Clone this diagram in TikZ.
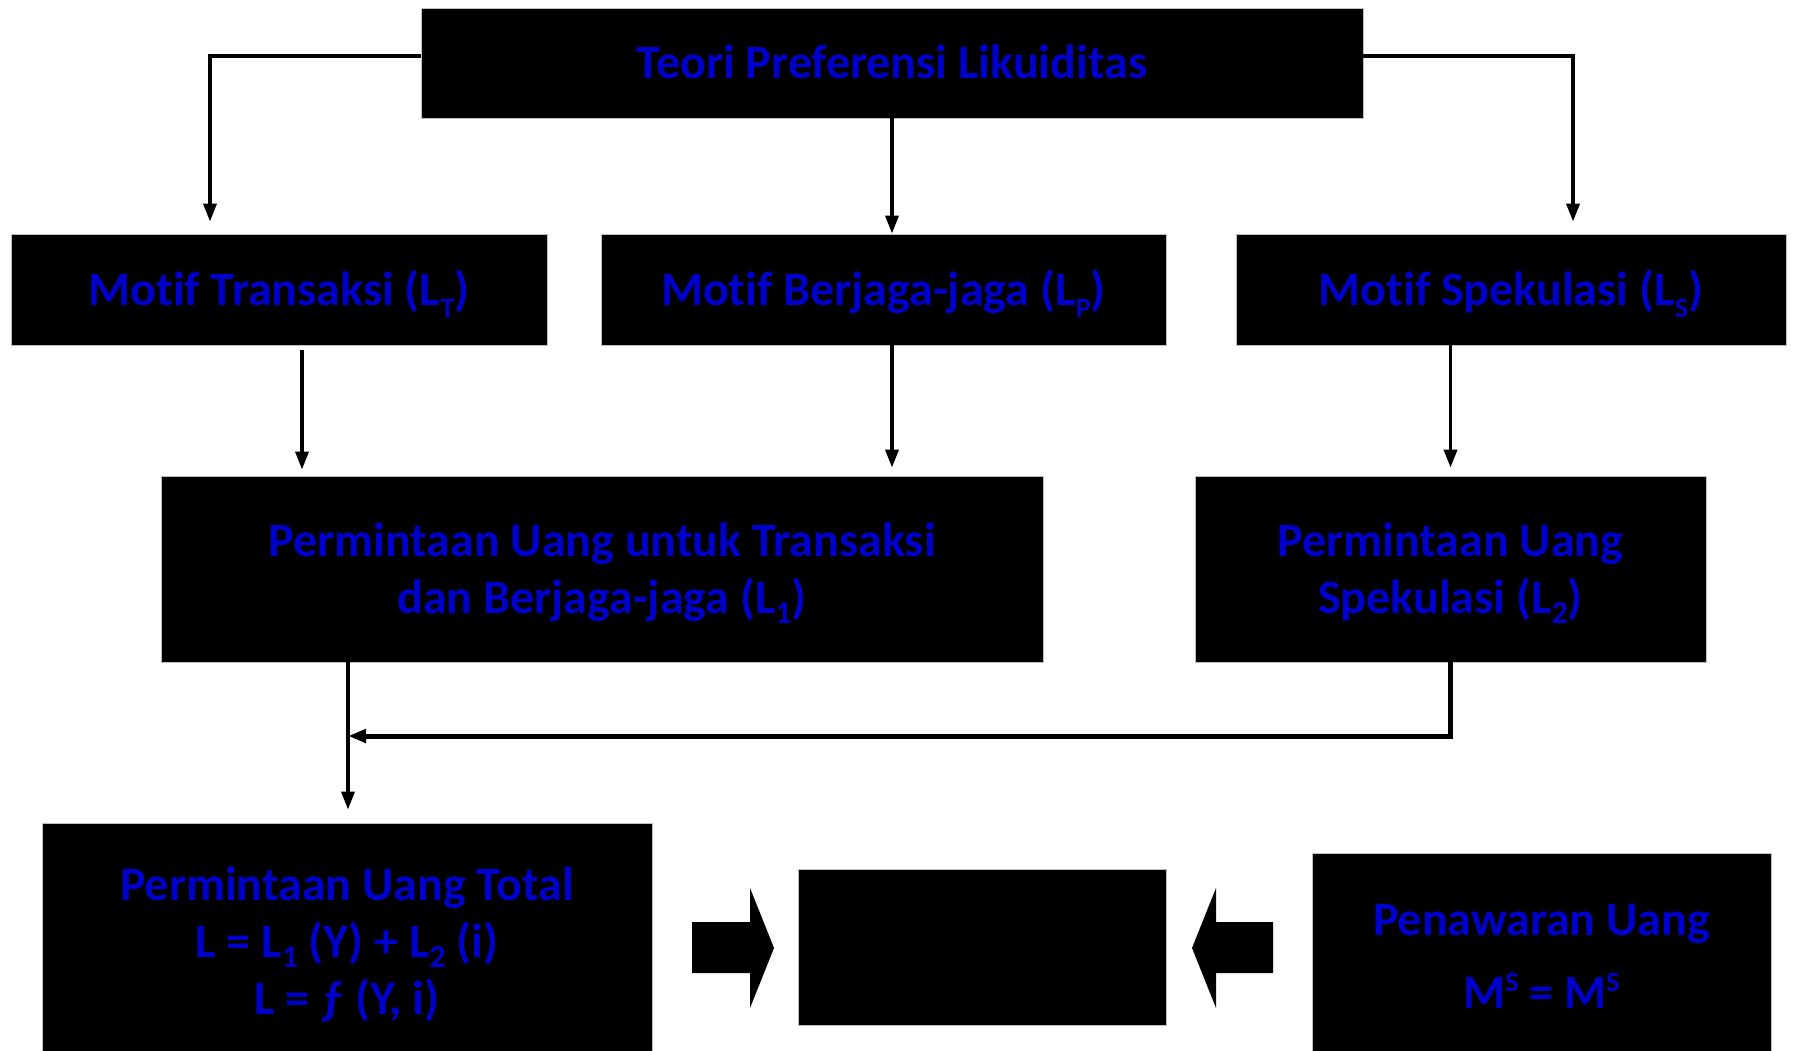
\documentclass[tikz,border=0pt]{standalone}
\usepackage{fontspec}
\setmainfont{Carlito}[Ligatures=NoCommon]
\usetikzlibrary{arrows.meta,calc}
\definecolor{txtblue}{RGB}{0,0,204}
\newcommand\mysubL[1]{\kern0.01em\raisebox{-12pt}{\fontsize{28}{28}\selectfont #1}}
\newcommand\mysubN[1]{\raisebox{-10pt}{\fontsize{32}{32}\selectfont #1}}
\newcommand\mysupL[1]{\raisebox{17pt}{\fontsize{28}{28}\selectfont #1}}
\begin{document}
\begin{tikzpicture}[x=1pt,y=-1pt,
  box/.style={fill=black,draw=gray!50,line width=0.8pt,text=txtblue,
    font=\fontsize{48}{57}\selectfont\bfseries,align=center,inner sep=0pt,
    text depth=0pt,text height=31pt},
  two/.style={text height=88pt},
  three/.style={text height=145pt},
  conn/.style={line width=3.5pt,-{Triangle[length=18pt,width=13pt]}},
  blockarrow/.style={fill=black}]
\path[use as bounding box] (0,0) rectangle (1793,1051);

\node[box,minimum width=942pt,minimum height=110pt] (top) at (892,63) {Teori Preferensi Likuiditas};
\node[box,minimum width=536pt,minimum height=111pt] (mt) at (279,289.5) {Motif Transaksi (L\mysubL{T})};
\node[box,minimum width=565pt,minimum height=111pt] (mb) at (883.5,289.5) {Motif Berjaga-jaga (L\mysubL{P})};
\node[box,minimum width=550pt,minimum height=111pt] (ms) at (1511,289.5) {Motif Spekulasi (L\mysubL{S})};
\node[box,two,minimum width=882pt,minimum height=186pt] (l1) at (602,569) {Permintaan Uang untuk Transaksi\\dan Berjaga-jaga (L\mysubN{1})};
\node[box,two,minimum width=511pt,minimum height=186pt] (l2) at (1450.5,569) {Permintaan Uang\\Spekulasi (L\mysubN{2})};
\node[box,three,minimum width=610pt,minimum height=237pt] (tot) at (347,941.5) {Permintaan Uang Total\\L = L\mysubN{1} (Y) + L\mysubN{2} (i)\\L = ƒ (Y, i)};
\node[box,minimum width=368pt,minimum height=156pt] (mid) at (982,947) {};
\node[box,text height=104pt,minimum width=459pt,minimum height=207pt] (pen) at (1541.5,956.5) {Penawaran Uang\\[16pt]M\mysupL{S} = M\mysupL{S}};

\coordinate (xl) at (210,0);
\coordinate (xr) at (1573,0);
\coordinate (x302) at (302,0);
\coordinate (x348) at (348,0);
\coordinate (j) at (348,736);

\draw[conn,shorten >=12pt] ([yshift=7pt]top.west) -| (mt.north -| xl);
\draw[conn] (top.south) -- (top.south |- mb.north);
\draw[conn,shorten >=12pt] ([yshift=7pt]top.east) -| (ms.north -| xr);

\draw[conn,shorten <=5pt,shorten >=6pt] (mt.south -| x302) -- (l1.north -| x302);
\draw[conn,shorten >=8pt] (top.south |- mb.south) -- (top.south |- l1.north);
\draw[conn,shorten >=8pt] (ms.south -| l2.north) -- (l2.north);
\draw[conn,shorten >=13pt] (l1.south -| x348) -- (tot.north -| x348);
\draw[conn,line width=5pt] (l2.south) |- (j);

\path[blockarrow] (692,922) -- (750,922) -- (750,888) -- (774,948) -- (750,1008) -- (750,973) -- (692,973) -- cycle;
\path[blockarrow] (1273,922) -- (1216,922) -- (1216,888) -- (1192,948) -- (1216,1008) -- (1216,973) -- (1273,973) -- cycle;
\end{tikzpicture}
\end{document}
